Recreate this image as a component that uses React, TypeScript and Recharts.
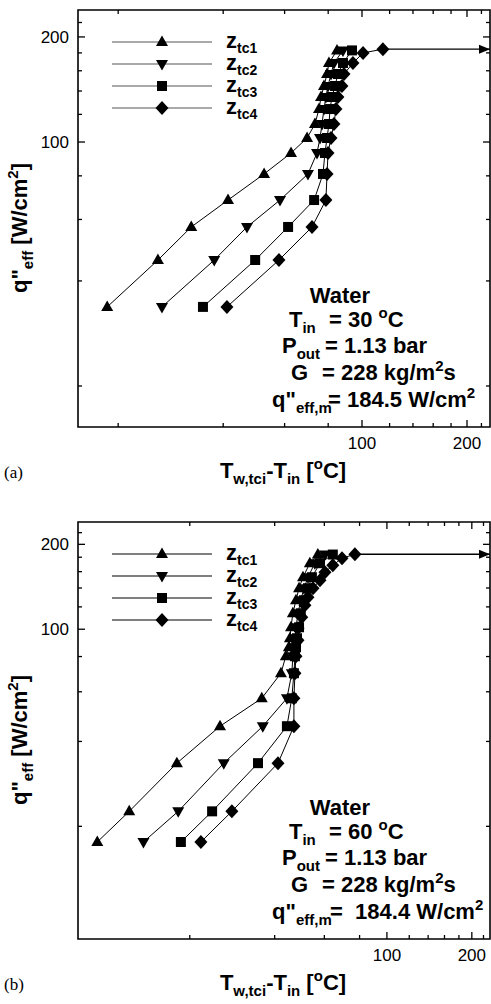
import React from 'react';
import { ScatterChart, Scatter, XAxis, YAxis, ReferenceArea, Legend } from 'recharts';

// wall superheat Tw,tci - Tin [C] against effective heat flux q"eff [W/cm2]
// panel (a): Tin = 30 C
const qA = [33.7, 45.9, 57.1, 68.2, 81.0, 93.0, 102.7, 112.6, 124.3, 134.6, 144.7, 156.6, 168.4, 183.0];
const dtA1 = [18.6, 26.0, 32.4, 41.3, 52.4, 62.6, 69.6, 73.3, 75.3, 76.3, 77.8, 79.4, 80.4, 84.8];
const dtA2 = [26.7, 37.7, 46.8, 58.2, 70.0, 74.3, 75.8, 76.8, 77.8, 78.8, 79.9, 81.5, 83.1, 88.2];
const dtA3 = [35.0, 49.4, 61.4, 72.9, 77.3, 78.3, 79.4, 80.4, 81.0, 82.0, 83.7, 85.3, 88.2, 93.6];
const qA4 = [33.7, 45.9, 57.1, 68.2, 81.0, 93.0, 102.7, 112.6, 124.3, 134.6, 144.7, 156.6, 168.4, 180.0, 184.5];
const dtA4 = [41.0, 57.8, 71.9, 78.8, 79.4, 79.9, 81.5, 83.1, 84.2, 85.3, 87.6, 88.8, 94.2, 100.7, 114.8];
const arrowXA = [114.8, 232.8];
const arrowQA = 184.5;

// panel (b): Tin = 60 C
const qB = [17.6, 22.6, 33.5, 45.3, 56.9, 69.8, 80.2, 86.3, 92.9, 101.6, 113.9, 126.7, 139.8, 152.9, 171.4, 184.0];
const dtB1 = [9.4, 12.2, 18.0, 25.6, 36.0, 42.1, 43.8, 44.9, 45.3, 45.7, 46.4, 47.6, 48.8, 50.4, 53.3, 56.9];
const dtB2 = [13.7, 18.2, 26.4, 36.3, 44.2, 46.0, 46.4, 46.8, 47.2, 47.6, 48.4, 49.5, 50.8, 52.5, 55.5, 60.3];
const dtB3 = [18.6, 24.0, 34.9, 44.2, 46.0, 46.8, 47.2, 47.6, 48.0, 48.8, 49.5, 50.8, 52.5, 54.2, 57.9, 64.3];
const qB4 = [17.6, 22.6, 33.5, 45.3, 56.9, 69.8, 80.2, 91.4, 100.8, 110.3, 121.6, 129.9, 139.8, 149.2, 159.3, 168.6, 178.5, 184.4];
const dtB4 = [21.9, 28.2, 41.1, 46.8, 46.8, 47.2, 47.6, 48.4, 48.4, 49.9, 51.2, 52.5, 54.7, 57.9, 60.3, 64.3, 69.3, 77.0];
const arrowXB = [77.0, 232];
const arrowQB = 184.4;

const TICKS = [20, 40, 60, 80, 100, 120, 140, 160, 180, 200, 220];
const LABELED = [100, 200];
const SERIES_NAMES = ['tc1', 'tc2', 'tc3', 'tc4'];

const FONT = '"Liberation Sans", Arial, Helvetica, sans-serif';
const W = 491;
const H = 492;
const PLOT_W = 412;
const PLOT_H = 417;

type Kind = 'up' | 'down' | 'square' | 'diamond';
const KINDS: Kind[] = ['up', 'down', 'square', 'diamond'];

const markerPath = (kind: Kind, cx: number, cy: number) => {
  switch (kind) {
    case 'up':
      return `M${cx},${cy - 6.5}L${cx + 6},${cy + 4}L${cx - 6},${cy + 4}Z`;
    case 'down':
      return `M${cx},${cy + 6.5}L${cx + 6},${cy - 4}L${cx - 6},${cy - 4}Z`;
    case 'square':
      return `M${cx - 5},${cy - 5}h10v10h-10Z`;
    default:
      return `M${cx},${cy - 7}L${cx + 6.5},${cy}L${cx},${cy + 7}L${cx - 6.5},${cy}Z`;
  }
};

const shapeOf = (kind: Kind) => (p: any) =>
  p.cx == null ? <g /> : <path d={markerPath(kind, p.cx, p.cy)} fill="#000" />;

const toPoints = (dt: number[], q: number[]) => dt.map((x, i) => ({ x, y: q[i] }));

const BottomTick = (p: any) => {
  const { x, y, payload } = p;
  const major = LABELED.includes(payload.value);
  const len = major ? 7 : 4;
  return (
    <g>
      <line x1={x} x2={x} y1={y} y2={y - len} stroke="#000" strokeWidth={1.3} />
      <line x1={x} x2={x} y1={y - PLOT_H} y2={y - PLOT_H + len} stroke="#000" strokeWidth={1.3} />
      {major && (
        <text x={x} y={y + 22} textAnchor="middle" fontSize={17} fontFamily={FONT} fill="#000">
          {payload.value}
        </text>
      )}
    </g>
  );
};

const LeftTick = (p: any) => {
  const { x, y, payload } = p;
  const major = LABELED.includes(payload.value);
  const len = major ? 7 : 4;
  return (
    <g>
      <line x1={x} x2={x + len} y1={y} y2={y} stroke="#000" strokeWidth={1.3} />
      <line x1={x + PLOT_W} x2={x + PLOT_W - len} y1={y} y2={y} stroke="#000" strokeWidth={1.3} />
      {major && (
        <text x={x - 9} y={y + 6} textAnchor="end" fontSize={17} fontFamily={FONT} fill="#000">
          {payload.value}
        </text>
      )}
    </g>
  );
};

const LegendBox = ({ lineColor }: { lineColor: string }) => (
  <svg width={170} height={112}>
    {KINDS.map((k, i) => {
      const y = 18 + i * 22;
      return (
        <g key={k}>
          <line x1={2} x2={102} y1={y} y2={y} stroke={lineColor} strokeWidth={1.2} />
          <path d={markerPath(k, 52, y)} fill="#000" />
          <text x={116} y={y + 6} fontSize={22} fontWeight="bold" fontFamily={FONT} fill="#000">
            z<tspan fontSize={14} dy={5}>{SERIES_NAMES[i]}</tspan>
          </text>
        </g>
      );
    })}
  </svg>
);

type PanelProps = {
  top: number;
  tag: string;
  xDom: number[];
  yDom: number[];
  dts: number[][];
  qs: number[][];
  arrowX: number[];
  arrowQ: number;
  tin: string;
  qm: string;
  qmEq: string;
  qmX: number;
  legendColor: string;
};

const Panel = ({ top, tag, xDom, yDom, dts, qs, arrowX, arrowQ, tin, qm, qmEq, qmX, legendColor }: PanelProps) => {
  const arrowPts = arrowX.map((x) => ({ x, y: arrowQ }));
  const arrowShape = (p: any) =>
    p.payload && p.payload.x === arrowX[1] ? (
      <path d={`M${p.cx},${p.cy}L${p.cx - 11},${p.cy - 4.5}L${p.cx - 11},${p.cy + 4.5}Z`} fill="#000" />
    ) : (
      <g />
    );
  const txt = { fontFamily: FONT, fontWeight: 'bold' as const, fontSize: 22, fill: '#000' };
  return (
    <div style={{ position: 'absolute', left: 0, top, width: W, height: H }}>
      <ScatterChart width={W} height={H} margin={{ top: 10, right: 1, bottom: 35, left: 38 }}>
        <XAxis
          dataKey="x"
          type="number"
          scale="log"
          domain={xDom}
          allowDataOverflow
          ticks={TICKS}
          interval={0}
          tickSize={0}
          tickMargin={0}
          tickLine={false}
          axisLine={false}
          height={30}
          tick={<BottomTick />}
        />
        <YAxis
          dataKey="y"
          type="number"
          scale="log"
          domain={yDom}
          allowDataOverflow
          ticks={TICKS}
          interval={0}
          tickSize={0}
          tickMargin={0}
          tickLine={false}
          axisLine={false}
          width={40}
          tick={<LeftTick />}
        />
        <ReferenceArea x1={xDom[0]} x2={xDom[1]} y1={yDom[0]} y2={yDom[1]} fill="none" stroke="#000" strokeWidth={1.6} ifOverflow="visible" />
        <Legend
          layout="vertical"
          align="center"
          verticalAlign="middle"
          wrapperStyle={{ position: 'absolute', left: 110, top: 24, width: 170, height: 112 }}
          content={() => <LegendBox lineColor={legendColor} />}
        />
        <Scatter
          data={arrowPts}
          line={{ stroke: '#000', strokeWidth: 1.3 }}
          shape={arrowShape}
          isAnimationActive={false}
          legendType="none"
        />
        {KINDS.map((k, i) => (
          <Scatter
            key={k}
            name={'z' + SERIES_NAMES[i]}
            data={toPoints(dts[i], qs[i])}
            line={{ stroke: '#000', strokeWidth: 1 }}
            shape={shapeOf(k)}
            isAnimationActive={false}
          />
        ))}
      </ScatterChart>
      <svg width={W} height={H} style={{ position: 'absolute', left: 0, top: 0, pointerEvents: 'none' }}>
        <text {...txt} transform="translate(27,228) rotate(-90)" textAnchor="middle">
          q"<tspan fontSize={15} dy={6}>eff</tspan>
          <tspan dy={-6}> [W/cm</tspan>
          <tspan fontSize={15} dy={-9}>2</tspan>
          <tspan dy={9}>]</tspan>
        </text>
        <text {...txt} x={283} y={478} textAnchor="middle">
          T<tspan fontSize={15} dy={6}>w,tci</tspan>
          <tspan dy={-6}>-T</tspan>
          <tspan fontSize={15} dy={6}>in</tspan>
          <tspan dy={-6}> [</tspan>
          <tspan fontSize={15} dy={-9}>o</tspan>
          <tspan dy={9}>C]</tspan>
        </text>
        <text x={4} y={478} fontSize={17} fontFamily="'Liberation Serif', 'Times New Roman', serif" fill="#000">
          {tag}
        </text>
        <text {...txt} x={340} y={303} textAnchor="middle">Water</text>
        <text {...txt} x={289} y={327}>
          T<tspan fontSize={15} dy={6}>in</tspan>
          <tspan x={329} dy={-6}>= {tin} </tspan>
          <tspan fontSize={15} dy={-9}>o</tspan>
          <tspan dy={9}>C</tspan>
        </text>
        <text {...txt} x={282} y={353}>
          P<tspan fontSize={15} dy={6}>out</tspan>
          <tspan x={325} dy={-6}>= 1.13 bar</tspan>
        </text>
        <text {...txt} x={291} y={380}>
          G<tspan x={322}>= 228 kg/m</tspan>
          <tspan fontSize={15} dy={-9}>2</tspan>
          <tspan dy={9}>s</tspan>
        </text>
        <text {...txt} x={272} y={407}>
          q"<tspan fontSize={15} dy={6}>eff,m</tspan>
          <tspan x={qmX} dy={-6}>{qmEq}{qm} W/cm</tspan>
          <tspan fontSize={15} dy={-9}>2</tspan>
        </text>
      </svg>
    </div>
  );
};

export default function App() {
  return (
    <div style={{ position: 'absolute', left: 0, top: 0, width: 491, height: 1004, background: '#fff' }}>
      <Panel
        top={0}
        tag="(a)"
        xDom={[15.34, 232.8]}
        yDom={[15.26, 238.9]}
        dts={[dtA1, dtA2, dtA3, dtA4]}
        qs={[qA, qA, qA, qA4]}
        arrowX={arrowXA}
        arrowQ={arrowQA}
        tin="30"
        qm="184.5"
        qmEq="= "
        qmX={328}
        legendColor="#555"
      />
      <Panel
        top={512}
        tag="(b)"
        xDom={[8.03, 232]}
        yDom={[7.97, 240]}
        dts={[dtB1, dtB2, dtB3, dtB4]}
        qs={[qB, qB, qB, qB4]}
        arrowX={arrowXB}
        arrowQ={arrowQB}
        tin="60"
        qm="184.4"
        qmEq={'=\u00a0\u00a0'}
        qmX={330}
        legendColor="#000"
      />
    </div>
  );
}
